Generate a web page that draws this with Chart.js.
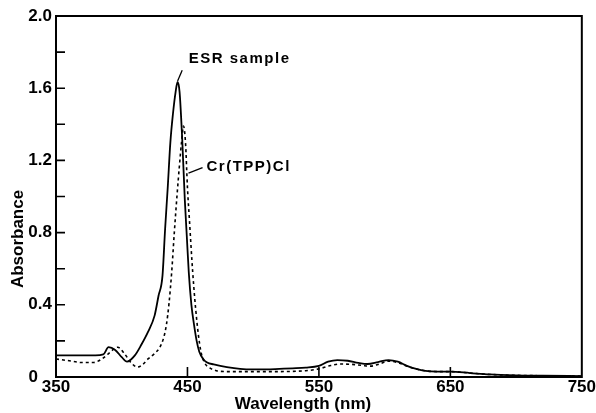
<!DOCTYPE html>
<html lang="en">
<head>
    <meta charset="UTF-8">
    <title>Absorbance spectra</title>
    <script src="https://cdn.jsdelivr.net/npm/chart.js"></script>
    <style>
        html, body { margin: 0; padding: 0; background: #fff; }
        .chart-box { width: 596px; height: 413px; position: relative; }
    </style>
</head>
<body>
    <div class="chart-box">
        <canvas id="specChart"></canvas>
    </div>

    <script>
        // ESR sample (solid line)
        const esrWavelength = [350, 360, 370, 380, 386, 390, 395, 400, 404, 410, 415, 420, 425, 428, 431, 433, 435, 437, 439, 441, 442.5, 444, 446, 448, 449.5, 451, 453, 455, 457, 459, 462, 465, 470, 480, 490, 500, 510, 520, 530, 540, 550, 557, 564, 572, 580, 587, 595, 603, 610, 617, 624, 631, 640, 650, 665, 680, 700, 720, 750];
        const esrAbsorbance = [0.12, 0.12, 0.12, 0.12, 0.125, 0.165, 0.15, 0.11, 0.085, 0.12, 0.18, 0.25, 0.34, 0.45, 0.56, 0.82, 1.05, 1.30, 1.46, 1.58, 1.635, 1.58, 1.32, 0.98, 0.78, 0.58, 0.40, 0.29, 0.20, 0.14, 0.10, 0.08, 0.07, 0.055, 0.045, 0.042, 0.042, 0.045, 0.048, 0.052, 0.062, 0.085, 0.094, 0.09, 0.078, 0.072, 0.083, 0.094, 0.085, 0.062, 0.045, 0.034, 0.03, 0.03, 0.022, 0.014, 0.009, 0.007, 0.005];

        // Cr(TPP)Cl (dashed line)
        const crWavelength = [350, 360, 370, 378, 385, 390, 397, 402, 407, 412, 416, 420, 425, 429, 432, 434, 436, 438, 440, 442, 444, 445.5, 447, 448.5, 450, 451.5, 454, 457, 460, 463, 467, 472, 480, 500, 520, 540, 550, 558, 566, 575, 583, 589, 596, 603, 610, 617, 624, 631, 640, 650, 665, 680, 700, 720, 750];
        const crAbsorbance = [0.10, 0.09, 0.08, 0.08, 0.10, 0.13, 0.165, 0.13, 0.08, 0.055, 0.07, 0.10, 0.13, 0.165, 0.22, 0.29, 0.41, 0.58, 0.80, 1.00, 1.18, 1.30, 1.39, 1.30, 1.05, 0.87, 0.58, 0.32, 0.15, 0.08, 0.05, 0.035, 0.03, 0.03, 0.03, 0.035, 0.045, 0.062, 0.072, 0.07, 0.064, 0.06, 0.072, 0.088, 0.08, 0.06, 0.044, 0.034, 0.03, 0.03, 0.022, 0.014, 0.009, 0.007, 0.005];

        const xTickValues = [350, 450, 550, 650, 750];
        const yTickValues = [0, 0.2, 0.4, 0.6, 0.8, 1.0, 1.2, 1.4, 1.6, 1.8, 2.0];
        const yLabelValues = [0, 0.4, 0.8, 1.2, 1.6, 2.0];

        const FONT = "'Liberation Sans', Arial, sans-serif";

        // curve labels with leader lines (data coordinates)
        const curveNotes = [
            { text: "ESR sample", x: 451, y: 1.76, from: [446, 1.70], to: [442.5, 1.64] },
            { text: "Cr(TPP)Cl", x: 464.5, y: 1.165, from: [461.5, 1.16], to: [450.8, 1.13] }
        ];

        // frame, inward ticks, axis titles, curve labels
        const framePlugin = {
            id: "frame",
            afterDraw(chart) {
                const { ctx, chartArea: a, scales: { x, y } } = chart;
                ctx.save();
                ctx.strokeStyle = "#000";
                ctx.lineWidth = 2;
                ctx.strokeRect(a.left, a.top, a.right - a.left, a.bottom - a.top);

                ctx.lineWidth = 1.6;
                ctx.beginPath();
                yTickValues.slice(1, -1).forEach(v => {
                    const py = y.getPixelForValue(v);
                    ctx.moveTo(a.left, py);
                    ctx.lineTo(a.left + 9, py);
                });
                xTickValues.slice(1, -1).forEach(v => {
                    const px = x.getPixelForValue(v);
                    ctx.moveTo(px, a.bottom);
                    ctx.lineTo(px, a.bottom - 10);
                });
                ctx.stroke();

                // axis titles
                ctx.fillStyle = "#000";
                ctx.font = "bold 17px " + FONT;
                ctx.textAlign = "center";
                ctx.textBaseline = "middle";
                ctx.fillText("Wavelength (nm)", 303, 404);
                ctx.save();
                ctx.translate(18, 239);
                ctx.rotate(-Math.PI / 2);
                ctx.fillText("Absorbance", 0, 0);
                ctx.restore();

                // curve labels
                ctx.textAlign = "left";
                ctx.font = "bold 15px " + FONT;
                ctx.letterSpacing = "1.5px";
                ctx.lineWidth = 1.3;
                curveNotes.forEach(n => {
                    ctx.fillText(n.text, x.getPixelForValue(n.x), y.getPixelForValue(n.y));
                    ctx.beginPath();
                    ctx.moveTo(x.getPixelForValue(n.from[0]), y.getPixelForValue(n.from[1]));
                    ctx.lineTo(x.getPixelForValue(n.to[0]), y.getPixelForValue(n.to[1]));
                    ctx.stroke();
                });
                ctx.restore();
            }
        };

        const toPoints = (xs, ys) => xs.map((v, i) => ({ x: v, y: ys[i] }));

        new Chart(document.getElementById("specChart"), {
            type: "line",
            data: {
                datasets: [
                    {
                        label: "ESR sample",
                        data: toPoints(esrWavelength, esrAbsorbance),
                        borderColor: "#000",
                        borderWidth: 1.8,
                        pointRadius: 0,
                        cubicInterpolationMode: "monotone"
                    },
                    {
                        label: "Cr(TPP)Cl",
                        data: toPoints(crWavelength, crAbsorbance),
                        borderColor: "#000",
                        borderWidth: 1.6,
                        borderDash: [3, 3],
                        pointRadius: 0,
                        cubicInterpolationMode: "monotone"
                    }
                ]
            },
            options: {
                responsive: true,
                maintainAspectRatio: false,
                animation: false,
                layout: { padding: { left: 0, top: 16, right: 0, bottom: 0 } },
                plugins: { legend: { display: false }, tooltip: { enabled: false } },
                scales: {
                    x: {
                        type: "linear",
                        min: 350,
                        max: 750,
                        afterBuildTicks: s => { s.ticks = xTickValues.map(v => ({ value: v })); },
                        afterFit: s => { s.height = 36; },
                        grid: { display: false, drawTicks: false },
                        border: { display: false },
                        ticks: {
                            padding: 0,
                            color: "#000",
                            font: { family: FONT, size: 17, weight: "bold" },
                            maxRotation: 0
                        }
                    },
                    y: {
                        min: 0,
                        max: 2.0,
                        afterBuildTicks: s => { s.ticks = yLabelValues.map(v => ({ value: v })); },
                        afterFit: s => { s.width = 56; },
                        grid: { display: false, drawTicks: false },
                        border: { display: false },
                        ticks: {
                            padding: 4,
                            color: "#000",
                            font: { family: FONT, size: 17, weight: "bold" },
                            callback: v => (v === 0 ? "0   " : v.toFixed(1))
                        }
                    }
                }
            },
            plugins: [framePlugin]
        });
    </script>
</body>
</html>
